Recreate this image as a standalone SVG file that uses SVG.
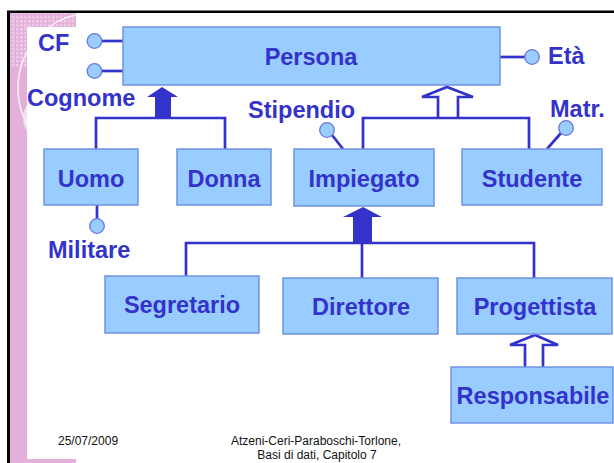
<svg xmlns="http://www.w3.org/2000/svg" width="614" height="463" viewBox="0 0 614 463">
<style>
.box{fill:#99CCFF;stroke:#7092E6;stroke-width:1.5}
.lbl{font-family:"Liberation Sans",Arial,sans-serif;font-weight:bold;font-size:23.5px;fill:#3333CC}
.mid{text-anchor:middle}
.ln{stroke:#3333CC;stroke-width:2.7;fill:none}
.att{fill:#99CCFF;stroke:#6677DD;stroke-width:1.3}
.filled{fill:#3333CC;stroke:none}
.foot{font-family:"Liberation Sans",Arial,sans-serif;font-size:12px;fill:#111}
</style>
<defs>
<pattern id="grid" width="4" height="4" patternUnits="userSpaceOnUse">
<rect width="4" height="4" fill="#E2B0D9"/>
<rect width="2.5" height="2.5" fill="#EDCBE8"/>
</pattern>
<clipPath id="pinkclip">
<path d="M10,13 H76 V27 H27 V459 H76 V463 H10 Z"/>
</clipPath>
</defs>
<rect width="614" height="463" fill="#FFFFFF"/>
<g id="decor">
<path d="M10,13 H76 V27 H27 V459 H76 V463 H10 Z" fill="#E2B0D9"/>
<g clip-path="url(#pinkclip)">
<rect x="10" y="13" width="66" height="54" fill="url(#grid)"/>
<circle cx="45" cy="118" r="22" fill="#F6ECF3" opacity="0.8"/>
<circle cx="93" cy="88" r="75" fill="none" stroke="#F8EEF6" stroke-width="1.6"/>
</g>
<rect x="7" y="11" width="3" height="452" fill="#000"/>
<rect x="7" y="10.5" width="607" height="2.5" fill="#000"/>
</g>
<g id="connectors">
<line class="ln" x1="102" y1="41" x2="128" y2="41"/>
<line class="ln" x1="102" y1="71" x2="128" y2="71"/>
<line class="ln" x1="498" y1="57" x2="525" y2="57"/>
<line class="ln" x1="332" y1="135" x2="343" y2="149"/>
<line class="ln" x1="561" y1="133" x2="547" y2="149"/>
<line class="ln" x1="97" y1="205" x2="97" y2="219"/>
<polyline class="ln" points="96,149 96,118 225,118 225,149"/>
<polygon class="filled" points="147,97 162,87 178,97 171,97 171,119 155,119 155,97"/>
<polyline class="ln" points="363,149 363,118 529,118 529,149"/>
<path class="ln" d="M438,118 V97 H422 L447,87 L473,97 H458 V118"/>
<polyline class="ln" points="186,276 186,243 534,243 534,278"/>
<line class="ln" x1="362" y1="243" x2="362" y2="278"/>
<polygon class="filled" points="343,217 363,207 382,217 372,217 372,244 353,244 353,217"/>
<path class="ln" d="M525,367 V345 H510 L535,335 L558,345 H543 V367"/>
</g>
<g id="persona">
<rect class="box" x="123" y="27" width="377" height="58"/>
<text class="lbl mid" x="311" y="65">Persona</text>
</g>
<g id="attr-cf">
<circle class="att" cx="94.5" cy="41" r="7.3"/>
<text class="lbl" x="38" y="51">CF</text>
</g>
<g id="attr-cognome">
<circle class="att" cx="94.5" cy="71" r="7.3"/>
<text class="lbl" x="27" y="106">Cognome</text>
</g>
<g id="attr-eta">
<circle class="att" cx="532" cy="57" r="7.3"/>
<text class="lbl" x="548" y="64">Età</text>
</g>
<g id="attr-stipendio">
<circle class="att" cx="327" cy="130" r="7.3"/>
<text class="lbl" x="248" y="118">Stipendio</text>
</g>
<g id="attr-matr">
<circle class="att" cx="566" cy="128" r="7.3"/>
<text class="lbl" x="550" y="117">Matr.</text>
</g>
<g id="attr-militare">
<circle class="att" cx="97" cy="226" r="7.3"/>
<text class="lbl" x="48" y="258">Militare</text>
</g>
<g id="uomo">
<rect class="box" x="44" y="149" width="94" height="56"/>
<text class="lbl mid" x="91" y="187">Uomo</text>
</g>
<g id="donna">
<rect class="box" x="177" y="149" width="94" height="56"/>
<text class="lbl mid" x="224" y="187">Donna</text>
</g>
<g id="impiegato">
<rect class="box" x="294" y="149" width="140" height="57"/>
<text class="lbl mid" x="364" y="187">Impiegato</text>
</g>
<g id="studente">
<rect class="box" x="462" y="149" width="140" height="56"/>
<text class="lbl mid" x="532" y="187">Studente</text>
</g>
<g id="segretario">
<rect class="box" x="105" y="276" width="154" height="57"/>
<text class="lbl mid" x="182" y="313">Segretario</text>
</g>
<g id="direttore">
<rect class="box" x="283" y="278" width="155" height="56"/>
<text class="lbl mid" x="361" y="315">Direttore</text>
</g>
<g id="progettista">
<rect class="box" x="457" y="278" width="155" height="56"/>
<text class="lbl mid" x="535" y="315">Progettista</text>
</g>
<g id="responsabile">
<rect class="box" x="451" y="367" width="162" height="56"/>
<text class="lbl mid" x="533" y="404">Responsabile</text>
</g>
<g id="footer">
<text class="foot" x="58" y="445">25/07/2009</text>
<text class="foot mid" x="316" y="445">Atzeni-Ceri-Paraboschi-Torlone,</text>
<text class="foot mid" x="317" y="459">Basi di dati, Capitolo 7</text>
</g>
</svg>
